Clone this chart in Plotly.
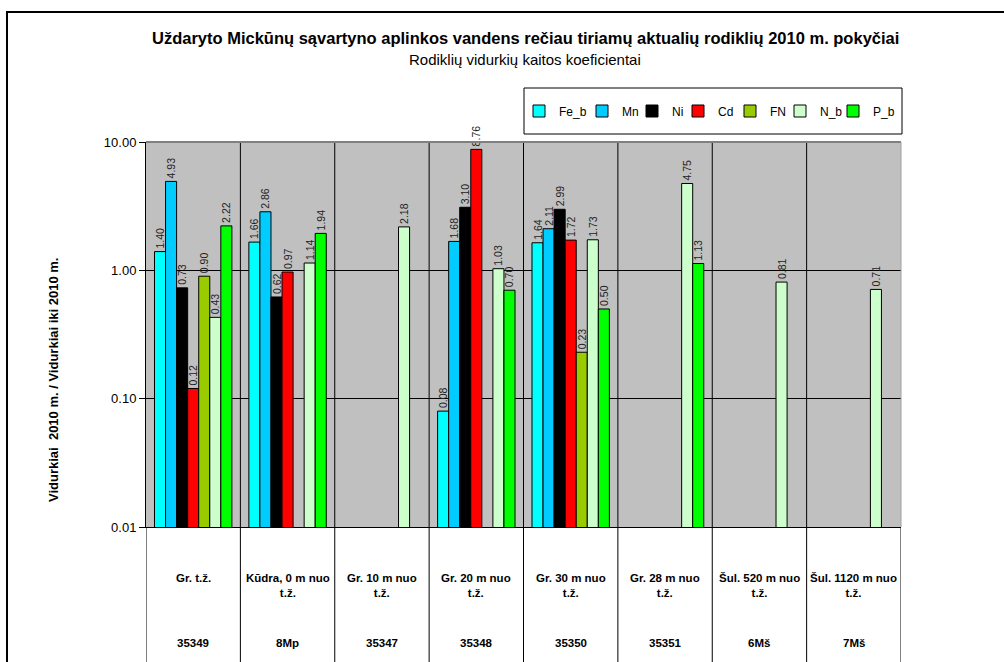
import plotly.graph_objects as go

# Sampling points: location description and station code
site_names = [
    "Gr. t.ž.",
    "Kūdra, 0 m nuo<br>t.ž.",
    "Gr. 10 m nuo<br>t.ž.",
    "Gr. 20 m nuo<br>t.ž.",
    "Gr. 30 m nuo<br>t.ž.",
    "Gr. 28 m nuo<br>t.ž.",
    "Šul. 520 m nuo<br>t.ž.",
    "Šul. 1120 m nuo<br>t.ž.",
]
site_codes = ["35349", "8Mp", "35347", "35348", "35350", "35351", "6Mš", "7Mš"]

# Ratio of 2010 mean to the mean before 2010, per indicator
fe_b = [1.40, 1.66, None, 0.08, 1.64, None, None, None]
mn = [4.93, 2.86, None, 1.68, 2.11, None, None, None]
ni = [0.73, 0.62, None, 3.10, 2.99, None, None, None]
cd = [0.12, 0.97, None, 8.76, 1.72, None, None, None]
fn = [0.90, None, None, None, 0.23, None, None, None]
n_b = [0.43, 1.14, 2.18, 1.03, 1.73, 4.75, 0.81, 0.71]
p_b = [2.22, 1.94, None, 0.70, 0.50, 1.13, None, None]

series_names = ["Fe_b", "Mn", "Ni", "Cd", "FN", "N_b", "P_b"]
series_values = [fe_b, mn, ni, cd, fn, n_b, p_b]
series_colors = ["#00FFFF", "#00CCFF", "#000000", "#FF0000", "#99CC00", "#CCFFCC", "#00FF00"]

y_tick_vals = [0.01, 0.1, 1, 10]
y_tick_text = ["0.01", "0.10", "1.00", "10.00"]

FONT = "Liberation Sans, Arial, sans-serif"
W, H = 1004, 662
L, R, T, B = 146, 1004 - 901, 142, 662 - 527
PW, PH = W - L - R, H - T - B


def px_x(px):
    return (px - L) / PW


def px_y(py):
    return (H - B - py) / PH


# horizontal pixel centre of each legend swatch
legend_swatch_px = [538, 601, 651, 697, 749, 799, 852]

x_idx = list(range(len(site_codes)))

fig = go.Figure()
legend_layouts = {}
for k, (name, vals, color) in enumerate(zip(series_names, series_values, series_colors)):
    leg_id = "legend" if k == 0 else f"legend{k + 1}"
    fig.add_trace(go.Bar(
        name=name,
        x=x_idx,
        y=vals,
        legend=leg_id,
        marker=dict(color=color, line=dict(color="#000000", width=1)),
        texttemplate="%{y:.2f}",
        textposition="outside",
        textangle=-90,
        constraintext="none",
        cliponaxis=False,
        textfont=dict(family=FONT, size=10.5, color="#222222"),
    ))
    legend_layouts[leg_id] = dict(
        orientation="h", x=px_x(legend_swatch_px[k] - 19), y=px_y(111),
        xanchor="left", yanchor="middle", bgcolor="rgba(0,0,0,0)", borderwidth=0,
        font=dict(family=FONT, size=12, color="#000000"),
    )

shapes = []
# category separators running from the plot top down through the label area
for i in range(len(site_codes) + 1):
    xb = i - 0.5
    top = 1 if 0 < i < len(site_codes) else 0
    shapes.append(dict(type="line", xref="x", yref="paper", x0=xb, x1=xb,
                       y0=-0.5, y1=top, line=dict(color="#000000", width=1)))
# plot area top and right borders
shapes.append(dict(type="line", xref="paper", yref="paper", x0=0, x1=1, y0=1, y1=1,
                   line=dict(color="#808080", width=2)))
shapes.append(dict(type="line", xref="paper", yref="paper", x0=1, x1=1, y0=0, y1=1,
                   line=dict(color="#A0A0A0", width=1)))
# legend frame
shapes.append(dict(type="rect", xref="paper", yref="paper",
                   x0=px_x(524), x1=px_x(902), y0=px_y(134), y1=px_y(88),
                   fillcolor="#FFFFFF", line=dict(color="#000000", width=1), layer="below"))
# chart frame
shapes.append(dict(type="rect", xref="paper", yref="paper",
                   x0=px_x(7), x1=px_x(1010), y0=px_y(670), y1=px_y(12),
                   line=dict(color="#000000", width=2), fillcolor="rgba(0,0,0,0)"))

annotations = [
    dict(text="<b>Uždaryto Mickūnų sąvartyno aplinkos vandens rečiau tiriamų aktualių rodiklių 2010 m. pokyčiai</b>",
         xref="paper", yref="paper", x=px_x(525), y=px_y(38), showarrow=False,
         xanchor="center", yanchor="middle", font=dict(family=FONT, size=16.5, color="#000000")),
    dict(text="Rodiklių vidurkių kaitos koeficientai",
         xref="paper", yref="paper", x=px_x(525), y=px_y(59), showarrow=False,
         xanchor="center", yanchor="middle", font=dict(family=FONT, size=15, color="#000000")),
    dict(text="<b>Vidurkiai  2010 m. / Vidurkiai iki 2010 m.</b>",
         xref="paper", yref="paper", x=px_x(53), y=px_y(380), showarrow=False, textangle=-90,
         xanchor="center", yanchor="middle", font=dict(family=FONT, size=13, color="#000000")),
]
for i, (nm, code) in enumerate(zip(site_names, site_codes)):
    annotations.append(dict(text="<b>" + nm + "</b>", xref="x", yref="paper", x=i, y=px_y(570),
                            showarrow=False, xanchor="center", yanchor="top", align="center",
                            font=dict(family=FONT, size=11.5, color="#000000")))
    annotations.append(dict(text="<b>" + code + "</b>", xref="x", yref="paper", x=i, y=px_y(643),
                            showarrow=False, xanchor="center", yanchor="middle",
                            font=dict(family=FONT, size=11.5, color="#000000")))

fig.update_layout(
    width=W, height=H,
    margin=dict(l=L, r=R, t=T, b=B, pad=0),
    paper_bgcolor="#FFFFFF",
    plot_bgcolor="#C0C0C0",
    barmode="group",
    bargap=0.18,
    bargroupgap=0,
    showlegend=True,
    xaxis=dict(range=[-0.5, len(site_codes) - 0.5], showticklabels=False, ticks="",
               showgrid=False, zeroline=False, showline=True, linecolor="#000000", linewidth=1),
    yaxis=dict(type="log", range=[-2, 1], tickvals=y_tick_vals, ticktext=y_tick_text,
               ticks="outside", ticklen=6, tickcolor="#000000", tickwidth=1,
               showgrid=True, gridcolor="#000000", gridwidth=1,
               showline=True, linecolor="#000000", linewidth=1, zeroline=False,
               tickfont=dict(family=FONT, size=13, color="#000000")),
    shapes=shapes,
    annotations=annotations,
    **legend_layouts,
)

fig.write_html("out.html")
